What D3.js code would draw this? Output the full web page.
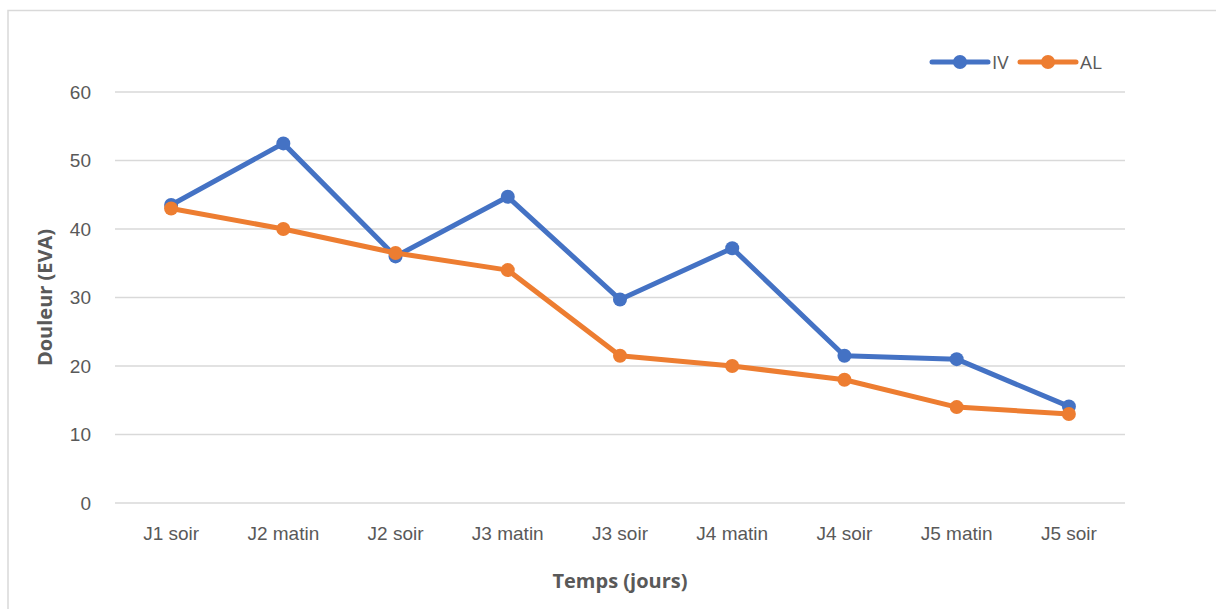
<!DOCTYPE html>
<html>
<head>
<meta charset="utf-8">
<script src="https://cdn.jsdelivr.net/npm/d3@7"></script>
<style>
  body { margin: 0; background: #fff; }
  svg { display: block; font-family: "Open Sans", "Noto Sans", sans-serif; }
</style>
</head>
<body>
<div id="chart"></div>
<script>
var categories = ["J1 soir", "J2 matin", "J2 soir", "J3 matin", "J3 soir", "J4 matin", "J4 soir", "J5 matin", "J5 soir"];
var ivValues = [43.5, 52.5, 36, 44.7, 29.7, 37.2, 21.5, 21, 14.1];
var alValues = [43, 40, 36.5, 34, 21.5, 20, 18, 14, 13];
var yTicks = [0, 10, 20, 30, 40, 50, 60];
var seriesNames = ["IV", "AL"];
var seriesColors = ["#4472C4", "#ED7D31"];

var W = 1216, H = 609;
var margin = {top: 92, right: 91, bottom: 106, left: 115};

var svg = d3.select("#chart").append("svg")
  .attr("width", W)
  .attr("height", H);

// outer chart border (right/bottom edges sit off-canvas)
svg.append("rect")
  .attr("x", 8).attr("y", 10.5)
  .attr("width", W).attr("height", H)
  .attr("fill", "none")
  .attr("stroke", "#D9D9D9")
  .attr("stroke-width", 1.5);

var x = d3.scaleBand()
  .domain(categories)
  .range([margin.left, W - margin.right]);

var y = d3.scaleLinear()
  .domain([0, 60])
  .range([H - margin.bottom, margin.top]);

// gridlines
svg.append("g")
  .selectAll("line")
  .data(yTicks)
  .enter().append("line")
    .attr("x1", margin.left)
    .attr("x2", W - margin.right)
    .attr("y1", function(d) { return y(d); })
    .attr("y2", function(d) { return y(d); })
    .attr("stroke", "#D9D9D9")
    .attr("stroke-width", 1.5);

// y axis labels
var yAxis = svg.append("g")
  .attr("transform", "translate(" + (margin.left - 24) + ",0)")
  .call(d3.axisLeft(y).tickValues(yTicks).tickSize(0).tickPadding(0));
yAxis.select(".domain").remove();
yAxis.selectAll("text")
  .attr("fill", "#595959")
  .style("font-size", "19px");

// x axis labels
var xAxis = svg.append("g")
  .attr("transform", "translate(0," + y(0) + ")")
  .call(d3.axisBottom(x).tickSize(0).tickPadding(24));
xAxis.select(".domain").remove();
xAxis.selectAll("text")
  .attr("fill", "#595959")
  .style("font-size", "19px");

// axis titles
svg.append("text")
  .attr("x", (margin.left + W - margin.right) / 2)
  .attr("y", 588)
  .attr("text-anchor", "middle")
  .attr("fill", "#595959")
  .style("font-size", "20px")
  .style("font-weight", "bold")
  .text("Temps (jours)");

svg.append("text")
  .attr("transform", "translate(52," + ((y(0) + y(60)) / 2) + ") rotate(-90)")
  .attr("text-anchor", "middle")
  .attr("fill", "#595959")
  .style("font-size", "20px")
  .style("font-weight", "bold")
  .text("Douleur (EVA)");

var line = d3.line()
  .x(function(d, i) { return x(categories[i]) + x.bandwidth() / 2; })
  .y(function(d) { return y(d); });

[ivValues, alValues].forEach(function(vals, k) {
  var g = svg.append("g");
  g.append("path")
    .datum(vals)
    .attr("d", line)
    .attr("fill", "none")
    .attr("stroke", seriesColors[k])
    .attr("stroke-width", 5)
    .attr("stroke-linejoin", "round");
  g.selectAll("circle")
    .data(vals)
    .enter().append("circle")
      .attr("cx", function(d, i) { return x(categories[i]) + x.bandwidth() / 2; })
      .attr("cy", function(d) { return y(d); })
      .attr("r", 7)
      .attr("fill", seriesColors[k]);
});

// legend
var legend = svg.append("g").attr("transform", "translate(932,62)");
var legendX = [0, 88];
seriesNames.forEach(function(name, k) {
  var lg = legend.append("g").attr("transform", "translate(" + legendX[k] + ",0)");
  lg.append("line")
    .attr("x1", 0).attr("x2", 56)
    .attr("stroke", seriesColors[k])
    .attr("stroke-width", 5)
    .attr("stroke-linecap", "round");
  lg.append("circle")
    .attr("cx", 28).attr("r", 7)
    .attr("fill", seriesColors[k]);
  lg.append("text")
    .attr("x", 60).attr("dy", "0.35em")
    .attr("fill", "#595959")
    .style("font-size", "19px")
    .text(name);
});
</script>
</body>
</html>
